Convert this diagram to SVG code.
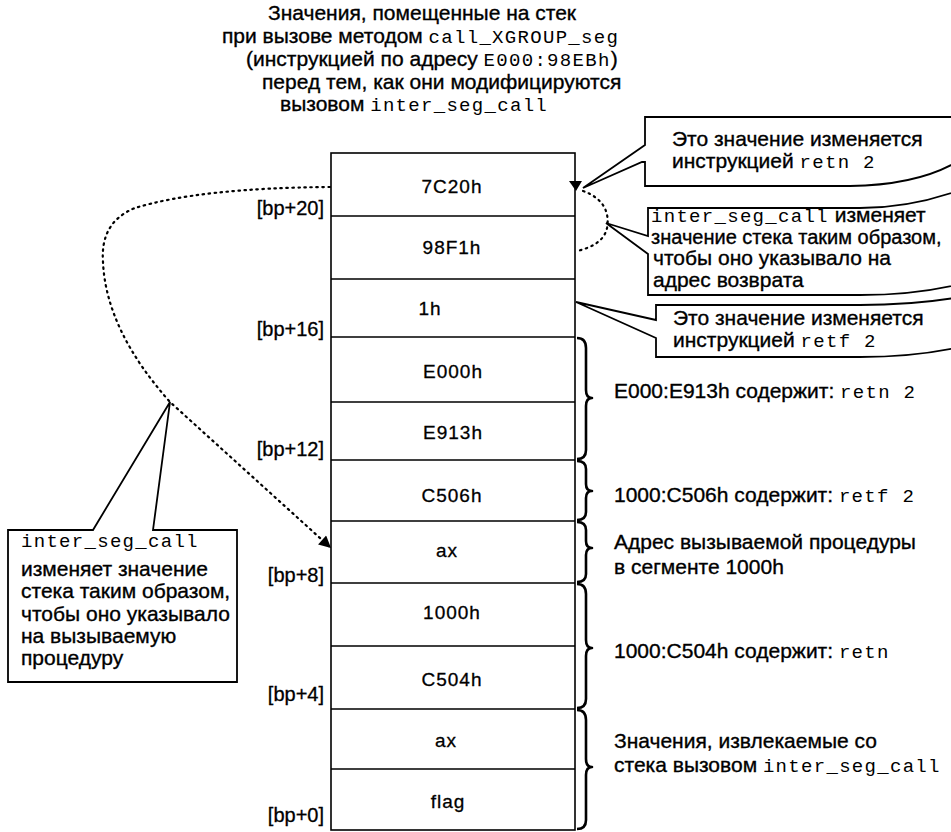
<svg xmlns="http://www.w3.org/2000/svg" width="951" height="832" viewBox="0 0 951 832">
<style>
.s{font-family:"Liberation Sans",Arial,sans-serif;font-size:21px;fill:#000;stroke:#000;stroke-width:0.35}
.m{font-family:"Liberation Mono","Courier New",monospace;font-size:19px;letter-spacing:1.3px;stroke:none;fill:#000}
.c{font-family:"Liberation Sans",Arial,sans-serif;font-size:19px;letter-spacing:1px;text-anchor:middle;fill:#000;stroke:#000;stroke-width:0.3}
.b{font-family:"Liberation Sans",Arial,sans-serif;font-size:20px;text-anchor:end;fill:#000;stroke:#000;stroke-width:0.3}
.ln{fill:none;stroke:#000;stroke-width:1.6}
.br{fill:none;stroke:#000;stroke-width:2.6;stroke-linejoin:round}
.dot{fill:none;stroke:#000;stroke-width:2.2;stroke-dasharray:1.5 4.5;stroke-linecap:round}
.co{fill:#fff;stroke:#000;stroke-width:1.8;stroke-linejoin:miter}
</style>
<defs>
<marker id="ah" viewBox="0 0 10 10" refX="10" refY="5" markerWidth="14" markerHeight="12" markerUnits="userSpaceOnUse" orient="auto">
<path d="M0,0 L10,5 L0,10 z" fill="#000"/>
</marker>
</defs>
<rect width="951" height="832" fill="#fff"/>

<g id="title">
<text class="s" x="268" y="20">Значения, помещенные на стек</text>
<text class="s" x="222" y="43">при вызове методом <tspan class="m">call_XGROUP_seg</tspan></text>
<text class="s" x="246" y="66">(инструкцией по адресу <tspan class="m">E000:98EBh</tspan>)</text>
<text class="s" x="262" y="89">перед тем, как они модифицируются</text>
<text class="s" x="280" y="111">вызовом <tspan class="m">inter_seg_call</tspan></text>
</g>

<g id="stack">
<rect x="331" y="153" width="244" height="677" class="ln" stroke-width="2"/>
<path class="ln" d="M331,216H575M331,279H575M331,337H575M331,402H575M331,460H575M331,521H575M331,583H575M331,646H575M331,709H575M331,769H575"/>
</g>
<g id="cell-7C20h"><text class="c" x="452" y="193">7C20h</text></g>
<g id="cell-98F1h"><text class="c" x="452" y="254">98F1h</text></g>
<g id="cell-1h"><text class="c" x="430" y="315">1h</text></g>
<g id="cell-E000h"><text class="c" x="453" y="378">E000h</text></g>
<g id="cell-E913h"><text class="c" x="453" y="439">E913h</text></g>
<g id="cell-C506h"><text class="c" x="452" y="502">C506h</text></g>
<g id="cell-ax1"><text class="c" x="447" y="557">ax</text></g>
<g id="cell-1000h"><text class="c" x="452" y="619">1000h</text></g>
<g id="cell-C504h"><text class="c" x="452" y="686">C504h</text></g>
<g id="cell-ax2"><text class="c" x="446" y="747">ax</text></g>
<g id="cell-flag"><text class="c" x="448" y="808">flag</text></g>

<g id="offsets">
<text class="b" x="324" y="215">[bp+20]</text>
<text class="b" x="324" y="336">[bp+16]</text>
<text class="b" x="324" y="456">[bp+12]</text>
<text class="b" x="324" y="582">[bp+8]</text>
<text class="b" x="324" y="701">[bp+4]</text>
<text class="b" x="324" y="822">[bp+0]</text>
</g>

<g id="braces">
<path class="br" d="M577,338 Q586,338 586,348 L586,390 Q586,398 592,398 Q586,398 586,406 L586,450 Q586,459 577,459"/>
<path class="br" d="M577,461 Q586,461 586,469 L586,484 Q586,491 592,491 Q586,491 586,498 L586,512 Q586,520 577,520"/>
<path class="br" d="M577,522 Q586,522 586,530 L586,541 Q586,548 592,548 Q586,548 586,555 L586,574 Q586,582 577,582"/>
<path class="br" d="M577,584 Q586,584 586,594 L586,640 Q586,648 592,648 Q586,648 586,656 L586,699 Q586,708 577,708"/>
<path class="br" d="M577,710 Q586,710 586,720 L586,759 Q586,767 592,767 Q586,767 586,775 L586,820 Q586,829 577,829"/>
</g>

<g id="notes-right">
<text class="s" x="614" y="398">E000:E913h содержит: <tspan class="m">retn 2</tspan></text>
<text class="s" x="614" y="502">1000:C506h содержит: <tspan class="m">retf 2</tspan></text>
<text class="s" x="614" y="549">Адрес вызываемой процедуры</text>
<text class="s" x="614" y="574">в сегменте 1000h</text>
<text class="s" x="614" y="658">1000:C504h содержит: <tspan class="m">retn</tspan></text>
<text class="s" x="614" y="748">Значения, извлекаемые со</text>
<text class="s" x="614" y="772">стека вызовом <tspan class="m">inter_seg_call</tspan></text>
</g>

<g id="callout-retn">
<path class="co" d="M960,117 L645,117 L645,145 L583,188 L642,162 L645,162 L645,186 L850,186 Q920,185 960,160"/>
<text class="s" x="672" y="146">Это значение изменяется</text>
<text class="s" x="672" y="168">инструкцией <tspan class="m">retn 2</tspan></text>
</g>

<g id="callout-return">
<path class="co" d="M960,190 Q910,208 860,208 L648,208 L648,236 L606,223 L648,254 L648,295 L860,295 Q915,295 960,284"/>
<text class="s" x="651" y="222"><tspan class="m">inter_seg_call</tspan> изменяет</text>
<text class="s" x="651" y="244" style="font-size:20px">значение стека таким образом,</text>
<text class="s" x="653" y="265">чтобы оно указывало на</text>
<text class="s" x="653" y="287">адрес возврата</text>
</g>

<g id="callout-retf">
<path class="co" d="M960,297 Q915,305 860,305 L656,305 L656,320 L576,302 L656,338 L656,357 L860,357 Q915,357 960,347"/>
<text class="s" x="673" y="325">Это значение изменяется</text>
<text class="s" x="673" y="347">инструкцией <tspan class="m">retf 2</tspan></text>
</g>

<g id="callout-proc">
<path class="co" d="M93,530 L8,530 L8,682 L237,682 L237,530 L153,530 L170,402 Z"/>
<text class="s" x="21" y="547"><tspan class="m">inter_seg_call</tspan></text>
<text class="s" x="21" y="576">изменяет значение</text>
<text class="s" x="21" y="598">стека таким образом,</text>
<text class="s" x="21" y="621">чтобы оно указывало</text>
<text class="s" x="21" y="643">на вызываемую</text>
<text class="s" x="21" y="665">процедуру</text>
</g>

<g id="connectors">
<path class="dot" d="M330,187 Q200,188 135,208 Q100,222 103,262 Q106,330 170,402 L331,548" marker-end="url(#ah)"/>
<path class="dot" d="M583,191 C603,198 610,212 607,228 C604,242 590,248 577,251"/>
<polygon points="569,181 582,181 576,191" fill="#000"/>
</g>
</svg>
